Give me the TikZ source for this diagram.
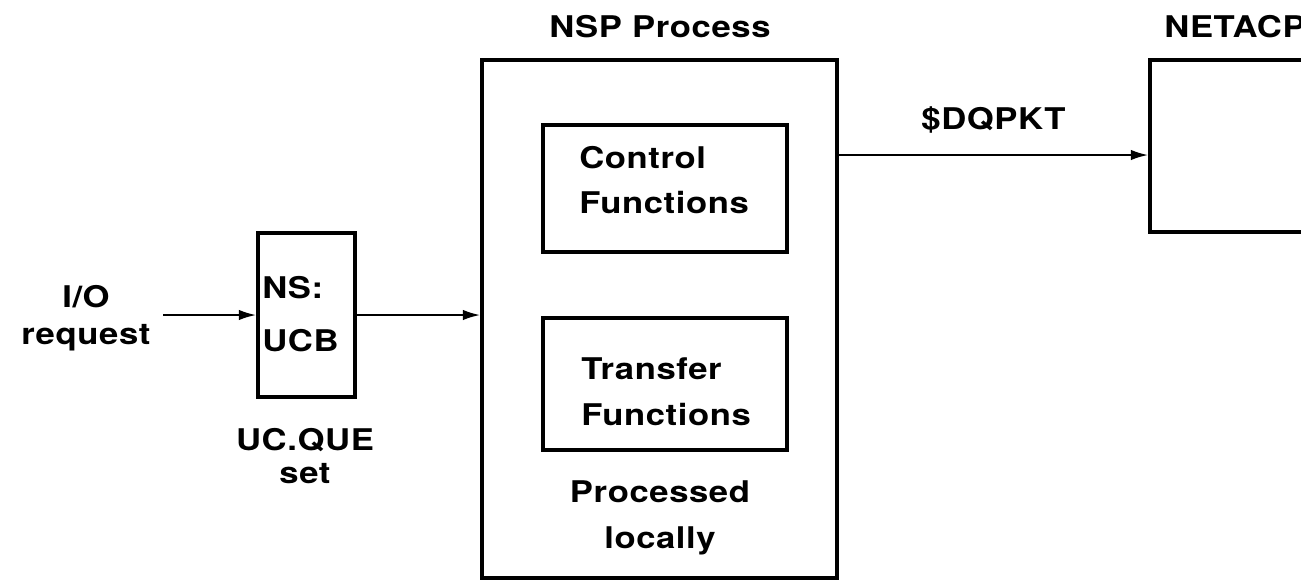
\documentclass[tikz,border=0pt]{standalone}
\usepackage{fontspec}
\setmainfont[FakeStretch=1.16,LetterSpace=2]{TeX Gyre Heros}
\usetikzlibrary{arrows.meta,positioning}
\tikzset{
  lbl/.style={font=\bfseries\fontsize{17}{21}\selectfont, align=center, inner sep=0pt},
  blk/.style={draw, line width=1.9pt, inner sep=0pt},
  flow/.style={-{Latex[length=10pt,width=6pt]}, line width=1.3pt},
}
\begin{document}
\begin{tikzpicture}[x=0.02cm,y=-0.02cm]
   	\clip (0,0) rectangle (1301,583);

	%Cajas principales
   	\node[blk, minimum width=1.94cm, minimum height=3.28cm] (ucb) at (306.5,315) {};
   	\node[blk, minimum width=7.1cm, minimum height=10.36cm] (nsp) at (659.5,319) {};
   	\node[blk, minimum width=4.88cm, minimum height=2.54cm] (ctrl) at (665,188.5) {};
   	\node[blk, minimum width=4.88cm, minimum height=2.64cm] (xfer) at (665,384) {};
   	\node[blk, minimum width=6cm, minimum height=3.44cm] (netacp) at (1300,146) {};

	%Textos dentro de las cajas
   	\node[lbl, align=left, anchor=west, font=\bfseries\fontsize{17}{26}\selectfont] (ctrltxt) at (579,180) {Control\\Functions};
   	\node[lbl, align=left, anchor=west, font=\bfseries\fontsize{17}{26}\selectfont] (xfertxt) at (581,392) {Transfer\\Functions};
   	\node[lbl, align=left, anchor=west, font=\bfseries\fontsize{17}{30}\selectfont] (ucbtxt) at (262,314) {NS:\\UCB};

	%Titulos y etiquetas
   	\node[lbl] (nsptitle) at (660,27) {NSP Process};
   	\node[lbl, anchor=east] (netacptitle) at (1306,27) {NETACP};
   	\node[lbl] (io) at (86,318) {I/O\\request};
   	\node[lbl, font=\bfseries\fontsize{17}{19}\selectfont] (ucque) at (305,456) {UC.QUE\\set};
   	\node[lbl, font=\bfseries\fontsize{17}{26}\selectfont] (local) at (660,518) {Processed\\locally};

	%Flechas
   	\coordinate (req) at (163,315);
   	\draw[flow] (req) -- (ucb.west);
   	\draw[flow] (ucb.east) -- (ucb.east -| nsp.west);
   	\draw[flow] (nsp.east |- 0,155) -- (netacp.west |- 0,155)
   		node[lbl, midway, above=12pt] (dq) {\$DQPKT};
\end{tikzpicture}
\end{document}
